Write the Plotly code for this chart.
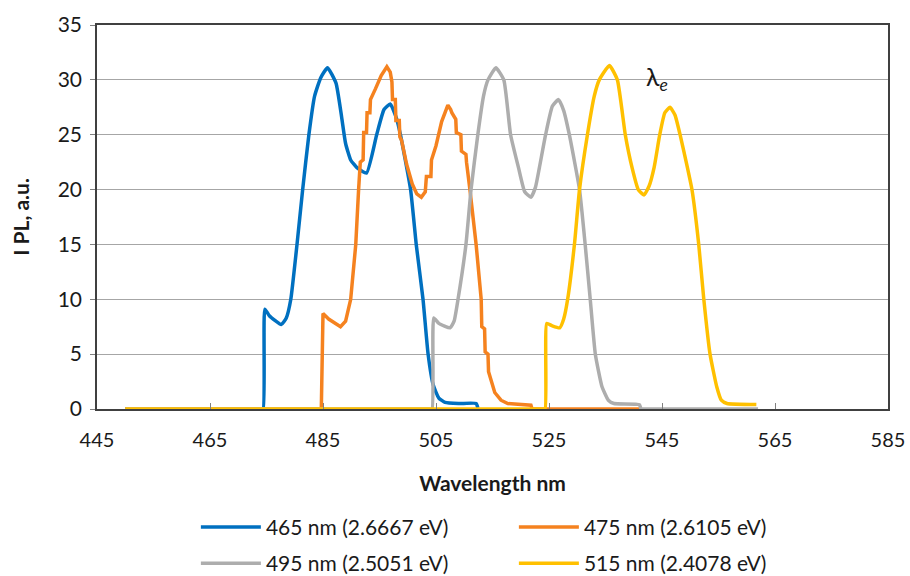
import plotly.graph_objects as go

# ---- data ----
names = ["465 nm (2.6667 eV)", "475 nm (2.6105 eV)", "495 nm (2.5051 eV)", "515 nm (2.4078 eV)"]
colors = ["#0070C0", "#F5821F", "#ADADAD", "#FFC000"]

x465 = [450, 473.8, 474.4, 474.7, 475.5, 477.6, 478.5, 479.3, 480.4, 481.4, 482.5, 483.5, 484.6, 485.8,
        487.3, 488.3, 489.0, 489.9, 491.0, 492.7, 494.5, 495.8, 496.9, 498.0, 498.7, 500.5, 501.5,
        502.7, 503.6, 504.5, 505.5, 506.6, 509.0, 512.1, 512.4]
y465 = [0, 0, 0, 9.1, 8.5, 7.7, 8.3, 10, 15, 20, 25, 28.5, 30.2, 31.1,
        29.7, 26.6, 24.2, 22.7, 22.0, 21.5, 25, 27.3, 27.8, 26.5, 25, 20, 15,
        10, 5, 2.2, 1.0, 0.6, 0.5, 0.5, 0.1]

x475 = [450, 484.7, 485.0, 486.0, 488.1, 489.0, 489.9, 490.8, 491.3, 491.6, 492.1, 492.2, 492.7,
        492.8, 493.3, 493.4, 494.3, 495.3, 496.3, 496.9, 497.2, 497.3, 497.8, 497.9, 498.5,
        498.6, 498.9, 499.8, 500.8, 501.6, 502.4, 503.1, 503.3, 504.1, 504.2, 505.0, 506.0,
        507.1, 507.6, 507.8, 508.5, 508.6, 509.4, 509.5, 510.3, 510.4, 511.0, 512.1, 513.0,
        513.1, 513.6, 513.7, 514.2, 514.3, 515.4, 516.5, 517.7, 521.2, 521.8, 522.0, 541.0]
y475 = [0, 0, 8.7, 8.2, 7.5, 8.0, 10, 15, 20, 22.5, 22.7, 25.2, 25.2,
        27.0, 27.0, 28.2, 29.2, 30.4, 31.2, 30.7, 29.8, 28.2, 28.2, 26.3, 26.3,
        24.8, 24.5, 22.3, 20.5, 19.6, 19.3, 19.8, 21.2, 21.2, 22.7, 24.0, 26.2,
        27.7, 27.3, 27.0, 26.4, 25.2, 25.0, 23.5, 23.2, 22.5, 20, 15, 10,
        7.5, 7.3, 5.2, 5.0, 3.4, 1.5, 0.8, 0.5, 0.4, 0.35, 0, 0]

x495 = [450, 503.7, 504.3, 504.6, 505.5, 507.5, 508.2, 508.9, 510.3, 511.2, 512.4, 513.4, 514.2, 515.6,
        517.0, 518.2, 519.6, 520.7, 521.8, 522.6, 523.3, 524.4, 525.6, 526.7, 527.6, 528.6,
        530.4, 531.4, 532.3, 533.2, 534.4, 535.5, 536.5, 541.0, 541.3, 541.8, 562.0]
y495 = [0, 0, 0, 8.3, 7.8, 7.4, 8.0, 10, 15, 20, 25, 28.5, 30, 31.1,
        30, 25, 22, 19.8, 19.3, 20.2, 22, 25, 27.6, 28.2, 27.2, 25,
        20, 15, 10, 5, 2, 0.8, 0.5, 0.4, 0, 0, 0]

x515 = [450, 523.7, 524.3, 524.6, 525.5, 526.9, 527.6, 528.3, 529.5, 530.4, 531.8, 533.0, 533.9, 535.7,
        537.1, 538.5, 539.7, 540.8, 541.8, 542.7, 543.6, 544.6, 545.5, 546.4, 547.3, 548.2,
        549.5, 550.3, 551.5, 552.4, 553.5, 554.7, 555.5, 556.5, 561.7]
y515 = [0, 0, 0, 7.8, 7.6, 7.4, 8.2, 10, 15, 20, 25, 28.5, 30, 31.3,
        30, 25, 22, 20, 19.5, 20.3, 22, 25, 27, 27.5, 26.8, 25,
        22, 20, 15, 10, 5, 2, 0.8, 0.5, 0.4]

xs = [x465, x475, x495, x515]
ys = [y465, y475, y495, y515]
shapes = ["spline", "linear", "spline", "spline"]
legend_ids = ["legend", "legend", "legend2", "legend2"]

x_ticks = [445, 465, 485, 505, 525, 545, 565, 585]
y_ticks = [0, 5, 10, 15, 20, 25, 30, 35]

FONT = "Lato"

fig = go.Figure()
for i in range(4):
    fig.add_trace(go.Scatter(
        x=xs[i], y=ys[i], mode="lines", name=names[i], legend=legend_ids[i],
        line=dict(color=colors[i], width=3.5, shape=shapes[i], smoothing=0.45),
        cliponaxis=False,
    ))

fig.add_annotation(
    x=544.2, y=30.2, xref="x", yref="y",
    text="λ<sub><i>e</i></sub>", showarrow=False,
    font=dict(family=FONT, size=25, color="#1a1a1a"),
)

leg_common = dict(
    orientation="h", x=0.125, xanchor="left", yanchor="top",
    entrywidth=243, entrywidthmode="pixels",
    font=dict(family=FONT, size=21, color="#1a1a1a"),
    itemwidth=60, bgcolor="rgba(0,0,0,0)",
)

fig.update_layout(
    width=910, height=576,
    margin=dict(l=97, r=22, t=25, b=167, autoexpand=False),
    paper_bgcolor="white", plot_bgcolor="white",
    font=dict(family=FONT, color="#1a1a1a"),
    showlegend=True,
    legend=dict(y=-0.255, **leg_common),
    legend2=dict(y=-0.349, **leg_common),
    xaxis=dict(
        range=[445, 585], tickvals=x_ticks, ticktext=[str(v) for v in x_ticks],
        showgrid=False, zeroline=False,
        showline=True, linecolor="#404040", linewidth=1.5, mirror=True,
        ticks="inside", ticklen=6, tickcolor="#808080",
        tickfont=dict(family=FONT, size=20, color="#1a1a1a"),
        ticklabelstandoff=12,
        title=dict(text="<b>Wavelength nm</b>", font=dict(family=FONT, size=21, color="#1a1a1a"), standoff=27),
    ),
    yaxis=dict(
        range=[0, 35], tickvals=y_ticks,
        showgrid=True, gridcolor="#A6A6A6", gridwidth=1, zeroline=False,
        showline=True, linecolor="#404040", linewidth=1.5, mirror=True,
        ticks="outside", ticklen=5, tickcolor="#808080",
        tickfont=dict(family=FONT, size=21, color="#1a1a1a"),
        ticklabelstandoff=4,
        title=dict(text="<b>I PL, a.u.</b>", font=dict(family=FONT, size=21, color="#1a1a1a"), standoff=22),
    ),
)
fig.update_yaxes(tickprefix="<b>", ticksuffix="</b>")

fig.write_html("out.html")
